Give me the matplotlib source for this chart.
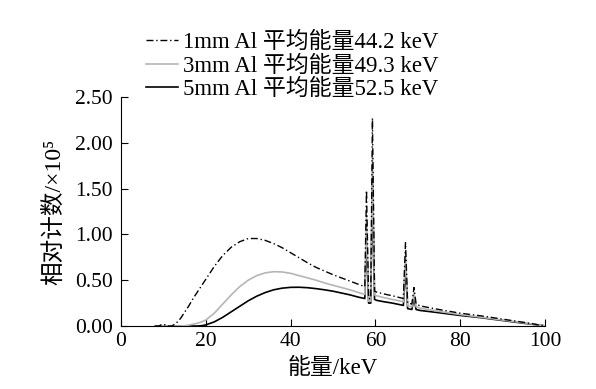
import numpy as np
import matplotlib
matplotlib.use("Agg")
import matplotlib.pyplot as plt

plt.rcParams['font.family'] = ['Liberation Serif', 'Noto Sans CJK SC', 'DejaVu Sans']

# energy grid (keV)
energy = [8, 9, 9.5, 10, 10.5, 11, 12, 13, 14, 15, 16, 17, 18, 19, 20,
          22, 24, 26, 28, 30, 32, 34, 36, 38, 40, 42, 44, 46, 48, 50,
          52, 54, 56, 57.5, 57.9, 58.4, 58.9, 59.3, 59.8, 60.3, 62, 64,
          66.6, 67.1, 67.6, 68.6, 69.1, 69.6, 70.5, 75, 80, 85, 90, 95,
          99.5, 100]

# relative counts (x1e5)
al_1mm = [0, 0, 0.015, 0.02, 0.01, 0, 0, 0.03, 0.08, 0.15, 0.22, 0.30, 0.37, 0.44, 0.51,
          0.65, 0.77, 0.86, 0.92, 0.955, 0.955, 0.935, 0.90, 0.855, 0.80, 0.745, 0.69, 0.64, 0.60, 0.56,
          0.525, 0.49, 0.455, 0.43, 1.48, 0.30, 0.30, 2.27, 0.38, 0.37, 0.35, 0.33,
          0.30, 0.91, 0.25, 0.24, 0.42, 0.24, 0.22, 0.18, 0.14, 0.11, 0.075, 0.04,
          0.005, 0]
al_3mm = [0, 0, 0, 0, 0, 0, 0, 0, 0, 0.003, 0.01, 0.02, 0.03, 0.045, 0.065,
          0.14, 0.24, 0.34, 0.43, 0.50, 0.55, 0.58, 0.593, 0.59, 0.575, 0.55, 0.525, 0.50, 0.47, 0.445,
          0.42, 0.395, 0.365, 0.345, 1.2, 0.27, 0.27, 1.85, 0.34, 0.33, 0.31, 0.29,
          0.265, 0.78, 0.22, 0.21, 0.36, 0.21, 0.195, 0.16, 0.125, 0.095, 0.065, 0.035,
          0.005, 0]
al_5mm = [0, 0, 0, 0, 0, 0, 0, 0, 0, 0, 0, 0, 0, 0.003, 0.012,
          0.045, 0.095, 0.155, 0.215, 0.275, 0.325, 0.365, 0.395, 0.413, 0.422, 0.423, 0.418, 0.408, 0.395, 0.38,
          0.36, 0.34, 0.315, 0.30, 1.0, 0.25, 0.25, 1.55, 0.29, 0.28, 0.265, 0.25,
          0.225, 0.65, 0.19, 0.18, 0.31, 0.18, 0.17, 0.145, 0.115, 0.09, 0.06, 0.03,
          0.005, 0]

labels = ['1mm Al 平均能量44.2 keV', '3mm Al 平均能量49.3 keV', '5mm Al 平均能量52.5 keV']

fig = plt.figure(figsize=(5.96, 3.89), dpi=100)
ax = fig.add_axes([121/596, 63/389, 424/596, 229/389])

ax.plot(energy, al_5mm, color='black', lw=1.2, label=labels[2], zorder=2)
ax.plot(energy, al_3mm, color='#b5b5b5', lw=1.2, label=labels[1], zorder=3)
ax.plot(energy, al_1mm, color='black', lw=1.0, ls=(0, (5, 2, 1, 2)), label=labels[0], zorder=4)

ax.set_xlim(0, 100)
ax.set_ylim(0, 2.5)
ax.set_xticks([0, 20, 40, 60, 80, 100])
ax.set_yticks([0, 0.5, 1.0, 1.5, 2.0, 2.5])
ax.set_yticklabels(['0.00', '0.50', '1.00', '1.50', '2.00', '2.50'])
ax.tick_params(direction='in', length=5, width=0.8, labelsize=15.5)
ax.tick_params(axis='y', pad=6)
ax.tick_params(axis='x', pad=4)
ax.spines['top'].set_visible(False)
ax.spines['right'].set_visible(False)

ax.set_xlabel('能量/keV', fontsize=16.5, labelpad=5)
ax.set_ylabel('相对计数/×10⁵', fontsize=17, labelpad=7)

h, l = ax.get_legend_handles_labels()
fig.legend(h[::-1], l[::-1], loc='upper left', bbox_to_anchor=(146/596, 1 - 32/389),
           frameon=False, fontsize=16.5, handlelength=1.4, handletextpad=0.2,
           labelspacing=0.1, borderpad=0, borderaxespad=0)

fig.savefig('out.png', dpi=100)
